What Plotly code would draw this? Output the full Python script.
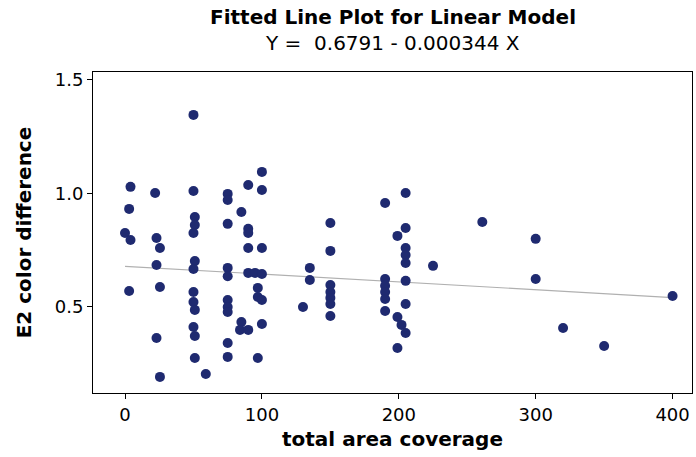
import plotly.graph_objects as go

# Observations: total area coverage vs. E2 color difference
coverage = [
    0, 4, 3, 4, 3,
    22, 23, 25.5, 23, 25.5, 23, 25.5,
    50, 50, 51, 51, 50, 51, 50, 50, 50, 51, 50, 51, 51, 59,
    75, 75, 75, 75, 75, 75, 75, 75, 75, 75,
    85, 85, 84, 90,
    90, 90, 90, 90, 90,
    95, 97, 97, 97,
    100, 100, 100, 100, 100, 100,
    130, 135, 135,
    150, 150, 150, 150, 150, 150, 150,
    190, 190, 190, 190, 190, 190,
    199, 199, 199, 202,
    205, 205, 205, 205, 205, 205, 205, 205,
    225, 261, 300, 300, 320, 350, 400,
]
e2_diff = [
    0.826, 1.029, 0.932, 0.795, 0.570,
    1.002, 0.804, 0.760, 0.685, 0.588, 0.363, 0.192,
    1.346, 1.011, 0.896, 0.861, 0.826, 0.702, 0.667, 0.566, 0.522, 0.487, 0.412, 0.372, 0.275, 0.205,
    0.998, 0.971, 0.866, 0.672, 0.635, 0.531, 0.500, 0.478, 0.341, 0.280,
    0.918, 0.434, 0.399, 0.399,
    1.037, 0.844, 0.826, 0.760, 0.650,
    0.650, 0.584, 0.544, 0.275,
    1.095, 1.015, 0.760, 0.645, 0.531, 0.425,
    0.500, 0.672, 0.619,
    0.870, 0.747, 0.597, 0.566, 0.540, 0.513, 0.460,
    0.958, 0.623, 0.593, 0.566, 0.535, 0.482,
    0.813, 0.456, 0.319, 0.421,
    1.002, 0.848, 0.760, 0.729, 0.694, 0.615, 0.513, 0.385,
    0.681, 0.874, 0.800, 0.623, 0.407, 0.328, 0.548,
]

# Fitted regression: Y = intercept + slope * X
intercept = 0.6791
slope = -0.000344
fit_x = [0, 400]
fit_y = [intercept + slope * v for v in fit_x]

x_ticks = [0, 100, 200, 300, 400]
y_ticks = [0.5, 1.0, 1.5]

FONT = "DejaVu Sans"

fig = go.Figure()
fig.add_trace(go.Scatter(
    x=fit_x, y=fit_y, mode="lines",
    line=dict(color="#b0b0b0", width=1.2),
    hoverinfo="skip", showlegend=False,
))
fig.add_trace(go.Scatter(
    x=coverage, y=e2_diff, mode="markers",
    marker=dict(color="#1f2a70", size=10, line=dict(width=0)),
    showlegend=False,
))

fig.update_layout(
    width=696, height=457,
    margin=dict(l=93, r=4, t=72, b=64),
    paper_bgcolor="white", plot_bgcolor="white",
    font=dict(family=FONT, color="black", size=18),
    annotations=[
        dict(text="<b>Fitted Line Plot for Linear Model</b>",
             xref="paper", yref="paper", x=0.5, y=1.171,
             xanchor="center", yanchor="middle", showarrow=False,
             font=dict(family=FONT, size=20, color="black")),
        dict(text="Y = &nbsp;0.6791 - 0.000344 X",
             xref="paper", yref="paper", x=0.5, y=1.09,
             xanchor="center", yanchor="middle", showarrow=False,
             font=dict(family=FONT, size=20, color="black")),
    ],
)
fig.update_xaxes(
    range=[-23.4, 414.2], tickvals=x_ticks,
    ticks="outside", ticklen=5, tickwidth=1, tickcolor="black",
    showline=True, linecolor="black", linewidth=1, mirror=True,
    showgrid=False, zeroline=False,
    tickfont=dict(family=FONT, size=18, color="black"),
    title=dict(text="<b>total area coverage</b>", standoff=8,
               font=dict(family=FONT, size=20, color="black")),
)
fig.update_yaxes(
    range=[0.121, 1.535], tickvals=y_ticks, ticktext=["0.5", "1.0", "1.5"],
    ticks="outside", ticklen=5, tickwidth=1, tickcolor="black",
    showline=True, linecolor="black", linewidth=1, mirror=True,
    showgrid=False, zeroline=False,
    tickfont=dict(family=FONT, size=18, color="black"),
    title=dict(text="<b>E2 color difference</b>", standoff=17,
               font=dict(family=FONT, size=20, color="black")),
)

fig.write_html("out.html")
